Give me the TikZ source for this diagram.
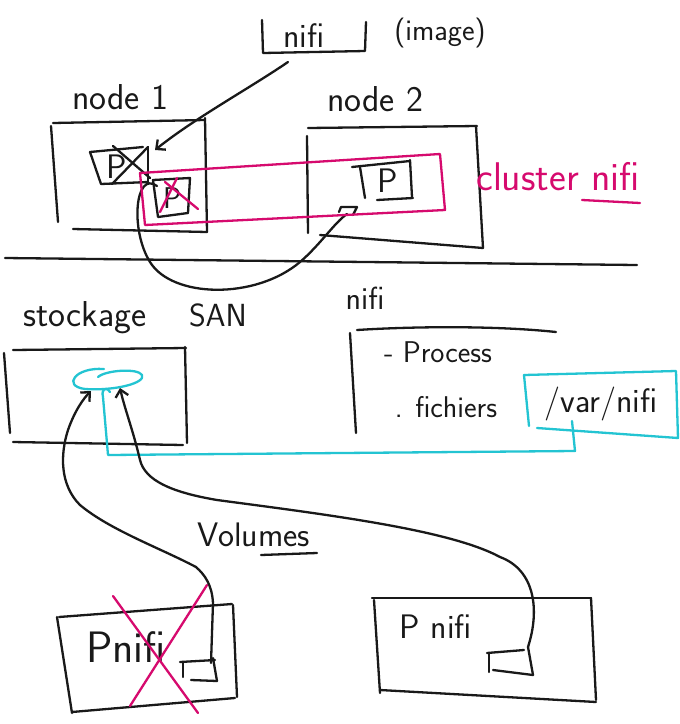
\documentclass[tikz,border=0pt]{standalone}
\usepackage{fontspec}
\usetikzlibrary{arrows.meta}
\definecolor{inkc}{RGB}{25,25,25}
\definecolor{pinkc}{RGB}{214,10,110}
\definecolor{cyanc}{RGB}{35,196,210}
\begin{document}
\begin{tikzpicture}[x=1pt,y=-1pt,line cap=round,line join=round,
  ink/.style={draw=inkc,line width=2.3pt},
  pinkline/.style={draw=pinkc,line width=2.3pt},
  cyanline/.style={draw=cyanc,line width=2.3pt},
  hand/.style={inner sep=0pt,text=inkc,font=\sffamily\fontsize{#1}{#1}\selectfont\addfontfeature{LetterSpace=10}},
  hand/.default=34,
  barb/.style={-{Straight Barb[length=7pt,width=13pt]}}]
\fill[white] (0,0) rectangle (680,724);
\useasboundingbox (0,0) rectangle (680,724);

% ---------- nifi image ----------
\draw[ink] (262,20) -- (263,53) -- (365,51) -- (366,22);
\node[hand=34] (nifiimg) at (304,36) {nifi};
\node[hand=30] (imagelbl) at (440,33) {(image)};
\coordinate (imgout) at (288,62);

% ---------- node 1 ----------
\node[hand=36] (node1lbl) at (120,97) {node 1};
\draw[ink] (53,123) -- (205,120);
\draw[ink] (51,126) -- (58,222);
\draw[ink] (205,118) -- (207,232);
\draw[ink] (73,229) -- (207,232);

% crossed P (old)
\draw[ink] (90,152) -- (143,147);
\draw[ink] (90,152) -- (101,184) -- (148,182);
\draw[ink] (148,148) -- (148,182);
\node[hand=34] (pold) at (117,167) {P};
\draw[ink] (113,146) -- (150,178);
\draw[ink] (148,147) -- (112,184);
\coordinate (poldin) at (155,150);

% P2 in node 1 (crossed in pink)
\draw[ink] (153,180) -- (190,178) -- (188,213) -- (158,217) -- cycle;
\node[hand=30] (p2) at (172,198) {P};
\draw[pinkline] (160,212) -- (177,178);
\draw[pinkline] (165,182) -- (198,209);
\coordinate (p2out) at (157,186);

% arrow from image to node 1
\draw[ink,barb] (imgout) .. controls (250,88) and (195,118) .. (poldin);

% ---------- node 2 ----------
\node[hand=36] (node2lbl) at (375,99) {node 2};
\draw[ink] (308,128) -- (477,126);
\draw[ink] (307,136) -- (308,233);
\draw[ink] (476,126) -- (483,248);
\draw[ink] (320,235) -- (483,248);

\draw[ink] (352,167) -- (410,161);
\draw[ink] (360,167) -- (365,198);
\draw[ink] (410,160) -- (412,197);
\draw[ink] (377,200) -- (413,198);
\node[hand=34] (p3) at (388,181) {P};

% cap in node 2
\draw[ink] (339,212) -- (341,207) -- (357,207) -- (353,215);
\coordinate (capin) at (347,214);

% curve from node 1 to node 2
\draw[ink] (p2out) .. controls (135,170) and (130,230) .. (150,262)
  .. controls (172,298) and (255,300) .. (300,262)
  .. controls (320,245) and (335,222) .. (capin);

% cluster
\draw[pinkline] (140,173) -- (440,154) -- (445,210) -- (145,225) -- cycle;
\node[hand=40,text=pinkc] (clusterlbl) at (558,177) {cluster nifi};
\draw[pinkline] (582,200) -- (640,203);

% separator
\draw[ink] (5,258) -- (637,265);

% ---------- lower part ----------
\node[hand=36] (stocklbl) at (85,318) {stockage};
\node[hand=32] (sanlbl) at (218,315) {SAN};
\node[hand=32] (nifilbl) at (365,298) {nifi};

% stockage box
\draw[ink] (13,350) -- (186,348);
\draw[ink] (4,353) -- (10,433);
\draw[ink] (13,442) -- (183,445);
\draw[ink] (185,347) -- (187,443);

% cloud (volume)
\draw[cyanline] (104,369) .. controls (75,367) and (62,386) .. (85,389)
  .. controls (115,391) and (146,383) .. (142,375)
  .. controls (138,368) and (106,370) .. (98,377);
\coordinate (cloudL) at (91,391);
\coordinate (cloudR) at (120,388);

% nifi (open box)
\draw[ink] (357,330) .. controls (420,326) and (500,326) .. (556,332);
\draw[ink] (350,333) -- (356,433);
\node[hand=30] (proclbl) at (438,352) {- Process};
\node[hand=30] (fichlbl) at (446,407) {. fichiers};

% /var/nifi
\draw[cyanline] (524,375) -- (676,371) -- (678,438) -- (537,428);
\draw[cyanline] (524,375) -- (529,426);
\node[hand=34] (varlbl) at (601,404) {/var/nifi};
\coordinate (varout) at (572,421);

% cyan mapping line
\draw[cyanline] (varout) -- (575,451) -- (108,455) -- (103,397)
  .. controls (101,389) and (106,386) .. (110,392);

% ---------- containers ----------
\node[hand=34] (volumeslbl) at (254,535) {Volumes};
\draw[ink] (261,555) -- (317,553);

% crossed container
\draw[ink] (59,617) -- (232,604);
\draw[ink] (57,617) -- (72,713);
\draw[ink] (72,712) -- (235,698);
\draw[ink] (233,605) -- (237,697);
\node[hand=44] (pnifiold) at (126,647) {Pnifi};
\draw[ink] (180,662) -- (215,660);
\draw[ink] (183,662) -- (183,677);
\draw[ink] (191,680) -- (217,681);
\draw[ink] (213,658) -- (217,681);
\coordinate (oldvol) at (211,663);
\draw[pinkline] (113,596) -- (198,713);
\draw[pinkline] (207,585) -- (130,706);

% new container
\draw[ink] (372,598) -- (591,598);
\draw[ink] (374,600) -- (380,693);
\draw[ink] (380,690) -- (596,702);
\draw[ink] (591,598) -- (596,700);
\node[hand=34] (pnifinew) at (436,627) {P nifi};
\draw[ink] (487,653) -- (524,650);
\draw[ink] (489,653) -- (489,672);
\draw[ink] (493,670) -- (533,675);
\draw[ink] (528,647) -- (533,675);
\coordinate (newvol) at (528,647);

% volume arrows
\draw[ink,barb] (oldvol) -- (213,603) .. controls (212,585) and (205,575) .. (196,567)
  .. controls (160,548) and (110,530) .. (80,505)
  .. controls (60,485) and (60,455) .. (68,430)
  .. controls (75,410) and (84,398) .. (cloudL);
\draw[ink,barb] (newvol) .. controls (540,610) and (535,570) .. (500,557)
  .. controls (450,530) and (330,515) .. (217,500)
  .. controls (170,492) and (145,480) .. (140,460)
  .. controls (133,430) and (125,410) .. (cloudR);
\end{tikzpicture}
\end{document}
